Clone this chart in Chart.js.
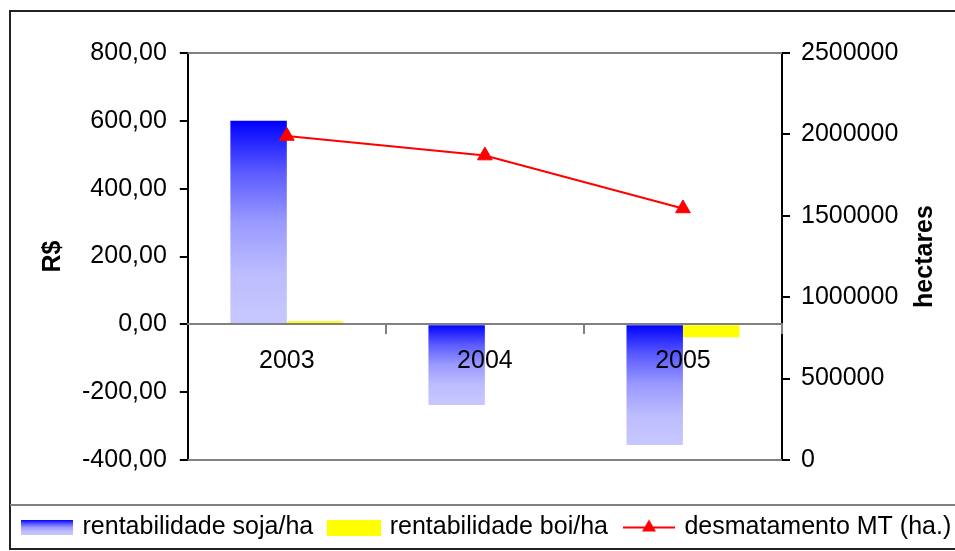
<!DOCTYPE html>
<html>
<head>
<meta charset="utf-8">
<script src="https://cdn.jsdelivr.net/npm/chart.js@4.4.0/dist/chart.umd.min.js"></script>
<style>
html,body{margin:0;padding:0;overflow:hidden;background:#fff}
</style>
</head>
<body>
<canvas id="grafico" width="1000" height="551"></canvas>
<script>
//DADOS
const categorias=["2003","2004","2005"]
const rentSoja=[600,-238,-356]
const rentBoi=[9,3,-38]
const desmatamento=[1990000,1870000,1545000]
const nomesSeries=["rentabilidade soja/ha","rentabilidade boi/ha","desmatamento MT (ha.)"]
const tituloDireita="hectares"

//VARIAVEIS
const fonte='"Liberation Sans", Arial, sans-serif'
Chart.defaults.font.family=fonte
Chart.defaults.color="#000"

//FUNCOES
function pintarDegrade(g){
    g.addColorStop(0,"#0000ff")
    g.addColorStop(0.25,"#5a5aff")
    g.addColorStop(0.5,"#9a9aff")
    g.addColorStop(0.75,"#bcbcff")
    g.addColorStop(1,"#c8c8ff")
    return g
}

function corSoja(context){
    if(context.type!=="data") return "#0000ff"
    const chart=context.chart
    if(!chart.chartArea) return "#0000ff"
    const escala=chart.scales.y
    const y0=escala.getPixelForValue(0)
    const y1=escala.getPixelForValue(context.raw)
    const g=chart.ctx.createLinearGradient(0,Math.min(y0,y1),0,Math.max(y0,y1))
    return pintarDegrade(g)
}

function criarAmostra(largura,altura,desenhar){
    const c=document.createElement("canvas")
    c.width=largura
    c.height=altura
    desenhar(c.getContext("2d"))
    return c
}

const amostraSoja=criarAmostra(52,15,ctx=>{
    ctx.fillStyle=pintarDegrade(ctx.createLinearGradient(0,0,0,15))
    ctx.fillRect(0,0,52,15)
})
const amostraBoi=criarAmostra(54,16,ctx=>{
    ctx.fillStyle="#ffff00"
    ctx.fillRect(0,0,54,16)
})
const amostraLinha=criarAmostra(52,20,ctx=>{
    ctx.strokeStyle="#ff0000"
    ctx.lineWidth=2
    ctx.beginPath()
    ctx.moveTo(0,10)
    ctx.lineTo(52,10)
    ctx.stroke()
    ctx.fillStyle="#ff0000"
    ctx.beginPath()
    ctx.moveTo(26,2)
    ctx.lineTo(33,14)
    ctx.lineTo(19,14)
    ctx.closePath()
    ctx.fill()
})
const amostras=[amostraSoja,amostraBoi,amostraLinha]

function formatoReais(v){
    return v.toFixed(2).replace(".",",")
}

//molduras e titulo da direita
const molduras={
    id:"molduras",
    beforeDraw(chart){
        const ctx=chart.ctx
        ctx.save()
        ctx.fillStyle="#fff"
        ctx.fillRect(0,0,chart.width,chart.height)
        ctx.lineWidth=2
        ctx.strokeStyle="#222"
        ctx.strokeRect(10,11,1100,538)
        ctx.strokeStyle="#808080"
        ctx.beginPath()
        ctx.moveTo(10,505)
        ctx.lineTo(chart.width,505)
        ctx.stroke()
        ctx.restore()
    },
    beforeDatasetsDraw(chart){
        const {ctx,chartArea}=chart
        ctx.save()
        ctx.strokeStyle="#808080"
        ctx.lineWidth=2
        ctx.beginPath()
        ctx.moveTo(chartArea.left,chartArea.top)
        ctx.lineTo(chartArea.right,chartArea.top)
        ctx.moveTo(chartArea.left,chartArea.bottom)
        ctx.lineTo(chartArea.right,chartArea.bottom)
        ctx.stroke()
        ctx.restore()
    },
    afterDraw(chart){
        const {ctx,chartArea}=chart
        const escala=chart.scales.y1
        ctx.save()
        ctx.translate(escala.right-75,(chartArea.top+chartArea.bottom)/2)
        ctx.rotate(-Math.PI/2)
        ctx.font="bold 25px "+fonte
        ctx.fillStyle="#000"
        ctx.textAlign="center"
        ctx.textBaseline="middle"
        ctx.fillText(tituloDireita,0,0)
        ctx.restore()
    }
}

//GRAFICO
const config={
    type:"bar",
    data:{
        labels:categorias,
        datasets:[
            {
                type:"line",
                label:nomesSeries[2],
                data:desmatamento,
                yAxisID:"y1",
                borderColor:"#ff0000",
                borderWidth:2,
                pointStyle:"triangle",
                pointRadius:8.5,
                pointBackgroundColor:"#ff0000",
                pointBorderColor:"#ff0000",
                pointBorderWidth:1,
                order:0
            },
            {
                label:nomesSeries[0],
                data:rentSoja,
                yAxisID:"y",
                backgroundColor:corSoja,
                order:1
            },
            {
                label:nomesSeries[1],
                data:rentBoi,
                yAxisID:"y",
                backgroundColor:"#ffff00",
                order:1
            }
        ]
    },
    options:{
        responsive:false,
        animation:false,
        categoryPercentage:0.57,
        barPercentage:1,
        layout:{padding:{left:6,top:53,right:0,bottom:1}},
        plugins:{
            tooltip:{enabled:false},
            legend:{
                position:"bottom",
                align:"start",
                title:{display:true,text:" ",font:{size:10},padding:{top:0,bottom:25}},
                labels:{
                    usePointStyle:true,
                    pointStyleWidth:46,
                    boxHeight:25,
                    padding:18,
                    font:{size:25},
                    color:"#000",
                    generateLabels(){
                        return nomesSeries.map((nome,i)=>({
                            text:nome,
                            pointStyle:amostras[i],
                            fillStyle:"#fff",
                            strokeStyle:"#fff",
                            lineWidth:0,
                            hidden:false,
                            datasetIndex:i
                        }))
                    }
                }
            }
        },
        scales:{
            x:{
                position:{y:0},
                offset:true,
                grid:{
                    offset:true,
                    drawOnChartArea:false,
                    tickLength:9,
                    lineWidth:2,
                    z:1,
                    color:c=>(c.index===0||c.index===categorias.length)?"rgba(0,0,0,0)":"#808080"
                },
                border:{color:"#808080",width:2,z:1},
                ticks:{font:{size:25},padding:13,color:"#000",maxRotation:0,z:1}
            },
            y:{
                position:"left",
                min:-400,
                max:800,
                ticks:{stepSize:200,font:{size:25},padding:13,color:"#000",callback:v=>formatoReais(v)},
                grid:{drawOnChartArea:false,tickLength:8,color:"#000",lineWidth:2},
                border:{color:"#000",width:2},
                title:{display:true,text:"R$",font:{size:25,weight:"bold"},color:"#000",padding:{top:32,bottom:1}}
            },
            y1:{
                position:"right",
                min:0,
                max:2500000,
                ticks:{stepSize:500000,font:{size:25},padding:11,color:"#000",callback:v=>String(v)},
                grid:{drawOnChartArea:false,tickLength:8,color:"#000",lineWidth:2},
                border:{color:"#000",width:2},
                title:{display:true,text:tituloDireita,font:{size:25,weight:"bold"},color:"rgba(0,0,0,0)",padding:{top:60,bottom:0.7}}
            }
        }
    },
    plugins:[molduras]
}

const grafico=new Chart(document.querySelector("#grafico"),config)
</script>
</body>
</html>
